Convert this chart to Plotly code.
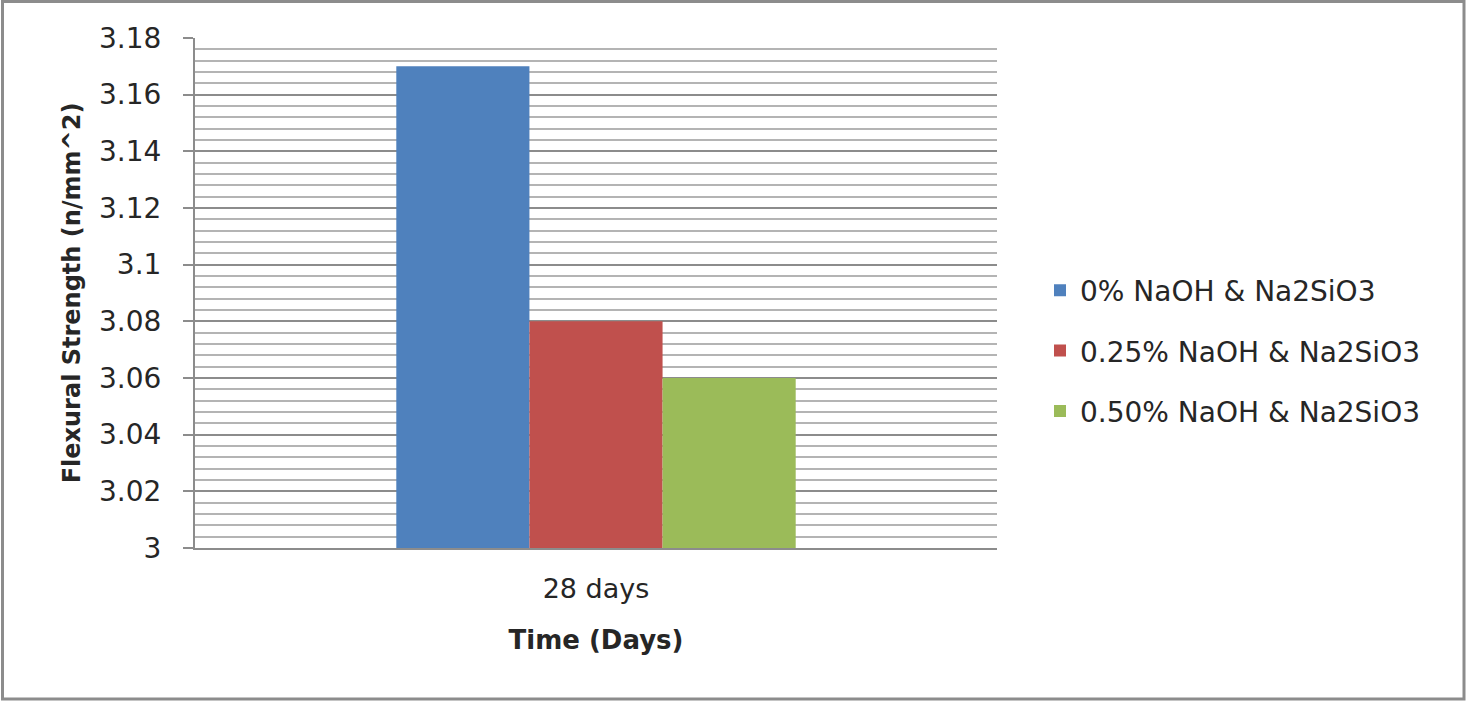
import plotly.graph_objects as go

categories = ["28 days"]
series_names = ["0% NaOH & Na2SiO3", "0.25% NaOH & Na2SiO3", "0.50% NaOH & Na2SiO3"]
series_values = [[3.17], [3.08], [3.06]]
colors = ["#4F81BD", "#C0504D", "#9BBB59"]

W, H = 1467, 702
L, R, T, B = 195, 997, 38, 548

fig = go.Figure()
for i, (name, vals, col) in enumerate(zip(series_names, series_values, colors)):
    fig.add_trace(go.Bar(x=categories, y=vals, name=name, marker_color=col,
                         marker_line_width=0, legendgroup=f"g{i}"))

def px_x(p):
    return (p - L) / (R - L)

def px_y(p):
    return (B - p) / (B - T)

fig.add_shape(type="rect", xref="paper", yref="paper",
              x0=px_x(2.5), x1=px_x(1464), y0=px_y(699), y1=px_y(1.5),
              line=dict(color="#8c8c8c", width=3), layer="below")

font_family = "DejaVu Sans, sans-serif"
fig.update_layout(
    width=W, height=H,
    margin=dict(l=L, r=W - R, t=T, b=H - B, pad=0),
    paper_bgcolor="white", plot_bgcolor="white",
    barmode="group", bargap=0.502, bargroupgap=0,
    font=dict(family=font_family, size=27, color="#262626"),
    showlegend=True,
    legend=dict(x=px_x(1040), xanchor="left", y=px_y(351), yanchor="middle",
                font=dict(size=28, color="#262626"), tracegroupgap=21,
                traceorder="grouped", itemwidth=30, bgcolor="rgba(0,0,0,0)"),
    xaxis=dict(showgrid=False, showline=True, linecolor="#8c8c8c", linewidth=2,
               ticks="", tickfont=dict(size=27), ticklabelstandoff=16,
               title=dict(text="<b>Time (Days)</b>", font=dict(size=26), standoff=27)),
    yaxis=dict(range=[3, 3.18], dtick=0.02, tick0=3, tickformat="~g",
               showgrid=True, gridcolor="#8c8c8c", gridwidth=2,
               showline=True, linecolor="#8c8c8c", linewidth=2,
               ticks="outside", ticklen=10, tickcolor="#8c8c8c", tickwidth=2,
               tickfont=dict(size=28), ticklabelstandoff=16,
               minor=dict(dtick=0.004, tick0=3, showgrid=True, gridcolor="#b4b4b4", gridwidth=2, ticks=""),
               zeroline=False,
               title=dict(text="<b>Flexural Strength (n/mm^2)</b>", font=dict(size=24), standoff=12)),
)

fig.write_html("out.html", config={"displayModeBar": False},
               post_script="document.body.style.margin='0';document.body.style.overflow='hidden';")
